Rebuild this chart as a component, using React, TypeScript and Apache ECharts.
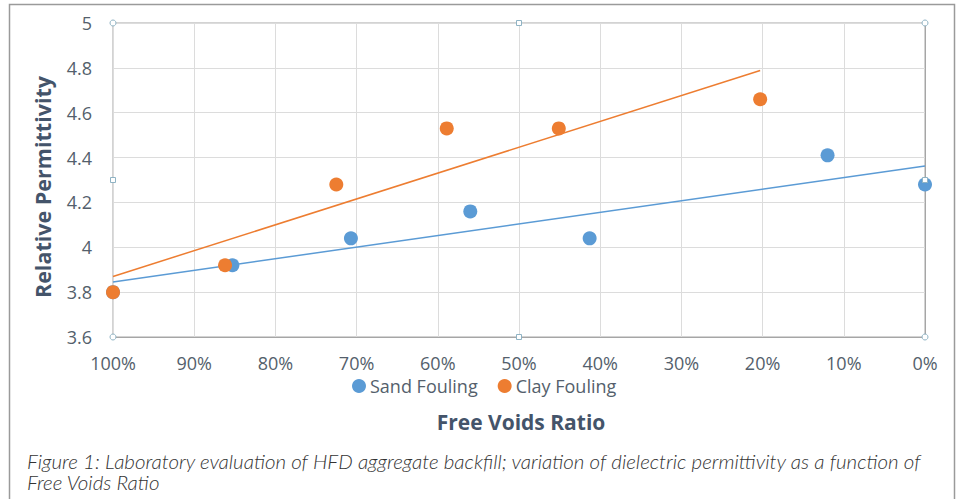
import React, { useEffect, useRef } from "react";
import * as echarts from "echarts";

// Free voids ratio (%) and relative permittivity readings
const sandX = [100, 85.3, 70.7, 56, 41.3, 12, 0];
const sandY = [3.8, 3.92, 4.04, 4.16, 4.04, 4.41, 4.28];
const clayX = [100, 86.2, 72.5, 58.9, 45.1, 20.3];
const clayY = [3.8, 3.92, 4.28, 4.53, 4.53, 4.66];

const seriesNames = ["Sand Fouling", "Clay Fouling"];
const xTitle = "Free Voids Ratio";
const yTitle = "Relative Permittivity";
const captionLines = [
  "Figure 1: Laboratory evaluation of HFD aggregate backfill; variation of dielectric permittivity as a function of",
  "Free Voids Ratio",
];

const BLUE = "#5B9BD5";
const ORANGE = "#ED7D31";
const LABEL = "#545f6c";
const TITLE = "#44546A";
const FONT = "'Open Sans', 'Noto Sans', sans-serif";

const G = { left: 113, top: 23, width: 812, height: 314 };

function trend(xs: number[], ys: number[]) {
  const n = xs.length;
  const mx = xs.reduce((a, b) => a + b, 0) / n;
  const my = ys.reduce((a, b) => a + b, 0) / n;
  let sxy = 0;
  let sxx = 0;
  for (let i = 0; i < n; i++) {
    sxy += (xs[i] - mx) * (ys[i] - my);
    sxx += (xs[i] - mx) * (xs[i] - mx);
  }
  const k = sxy / sxx;
  const b = my - k * mx;
  const x0 = Math.max(...xs);
  const x1 = Math.min(...xs);
  return [
    [x0, k * x0 + b],
    [x1, k * x1 + b],
  ];
}

function handles() {
  const out: any[] = [];
  const xs = [G.left, G.left + G.width / 2, G.left + G.width];
  const ys = [G.top, G.top + G.height / 2, G.top + G.height];
  const st = { fill: "#ffffff", stroke: "#8fb3c4", lineWidth: 1 };
  for (let i = 0; i < 3; i++) {
    for (let j = 0; j < 3; j++) {
      if (i === 1 && j === 1) continue;
      const cx = xs[i];
      const cy = ys[j];
      if (i !== 1 && j !== 1) {
        out.push({ type: "circle", shape: { cx, cy, r: 3 }, style: st, z: 100 });
      } else {
        out.push({ type: "rect", shape: { x: cx - 2.5, y: cy - 2.5, width: 5, height: 5 }, style: st, z: 100 });
      }
    }
  }
  return out;
}

export default function App() {
  const ref = useRef<HTMLDivElement>(null);
  useEffect(() => {
    if (!ref.current) return;
    const chart = echarts.init(ref.current, null, { renderer: "svg" });
    const fmtY = (v: number) => String(+v.toFixed(1));
    const captionStyle = {
      fontFamily: "Lato, sans-serif",
      fontStyle: "italic",
      fontWeight: 300,
      fontSize: 19,
      lineHeight: 18,
      fill: "#333333",
      textAlign: "left",
      textVerticalAlign: "middle",
    };
    chart.setOption({
      animation: false,
      backgroundColor: "#ffffff",
      grid: {
        left: G.left,
        top: G.top,
        width: G.width,
        height: G.height,
        show: true,
        borderColor: "#a6a6a6",
        borderWidth: 1,
        containLabel: false,
      },
      legend: {
        data: seriesNames.map((n) => ({ name: n, icon: "circle" })),
        left: 352,
        top: 377,
        padding: 0,
        itemWidth: 14,
        itemHeight: 14,
        itemGap: 20,
        textStyle: { fontFamily: FONT, fontSize: 18, lineHeight: 16, color: LABEL, padding: [0, 0, 0, -1] },
      },
      xAxis: {
        type: "value",
        inverse: true,
        min: 0,
        max: 100,
        interval: 10,
        axisLine: { show: true, lineStyle: { color: "#a6a6a6" } },
        axisTick: { show: false },
        splitLine: { show: true, lineStyle: { color: "#dcdcdc" } },
        axisLabel: {
          formatter: (v: number) => v + "%",
          fontFamily: FONT,
          fontSize: 18,
          lineHeight: 16,
          color: LABEL,
          margin: 18,
        },
      },
      yAxis: {
        type: "value",
        min: 3.6,
        max: 5,
        interval: 0.2,
        axisLine: { show: true, lineStyle: { color: "#a6a6a6" } },
        axisTick: { show: false },
        splitLine: { show: true, lineStyle: { color: "#dcdcdc" } },
        axisLabel: {
          formatter: fmtY,
          fontFamily: FONT,
          fontSize: 18,
          color: LABEL,
          margin: 21,
        },
      },
      series: [
        {
          type: "line",
          name: "Sand trend",
          data: trend(sandX, sandY),
          symbol: "none",
          lineStyle: { color: BLUE, width: 1.5 },
          silent: true,
          z: 2,
        },
        {
          type: "line",
          name: "Clay trend",
          data: trend(clayX, clayY),
          symbol: "none",
          lineStyle: { color: ORANGE, width: 1.5 },
          silent: true,
          z: 2,
        },
        {
          type: "scatter",
          name: seriesNames[0],
          data: sandX.map((x, i) => [x, sandY[i]]),
          symbol: "circle",
          symbolSize: 14,
          itemStyle: { color: BLUE, opacity: 1 },
          z: 3,
        },
        {
          type: "scatter",
          name: seriesNames[1],
          data: clayX.map((x, i) => [x, clayY[i]]),
          symbol: "circle",
          symbolSize: 14,
          itemStyle: { color: ORANGE, opacity: 1 },
          z: 4,
        },
      ],
      graphic: [
        {
          type: "polyline",
          shape: { points: [[9.5, 499], [9.5, 4.5], [954.5, 4.5], [954.5, 499]] },
          style: { stroke: "#9a9a9a", lineWidth: 1.5, fill: null },
          z: 100,
        },
        ...handles(),
        {
          type: "text",
          x: 42,
          y: 187,
          rotation: Math.PI / 2,
          style: {
            text: yTitle,
            fontFamily: FONT,
            fontSize: 21.5,
            fontWeight: "bold",
            fill: TITLE,
            textAlign: "center",
            textVerticalAlign: "middle",
          },
        },
        {
          type: "text",
          x: 521,
          y: 422,
          style: {
            text: xTitle,
            fontFamily: FONT,
            fontSize: 21,
            fontWeight: "bold",
            fill: TITLE,
            textAlign: "center",
            textVerticalAlign: "middle",
          },
        },
        { type: "text", x: 27, y: 461, scaleX: 1.08, style: { ...captionStyle, text: captionLines[0] } },
        { type: "text", x: 27, y: 482, scaleX: 1.08, style: { ...captionStyle, text: captionLines[1] } },
      ],
    });
    return () => chart.dispose();
  }, []);
  return (
    <div
      ref={ref}
      style={{ position: "fixed", left: 0, top: 0, width: 960, height: 499, background: "#fff" }}
    />
  );
}
